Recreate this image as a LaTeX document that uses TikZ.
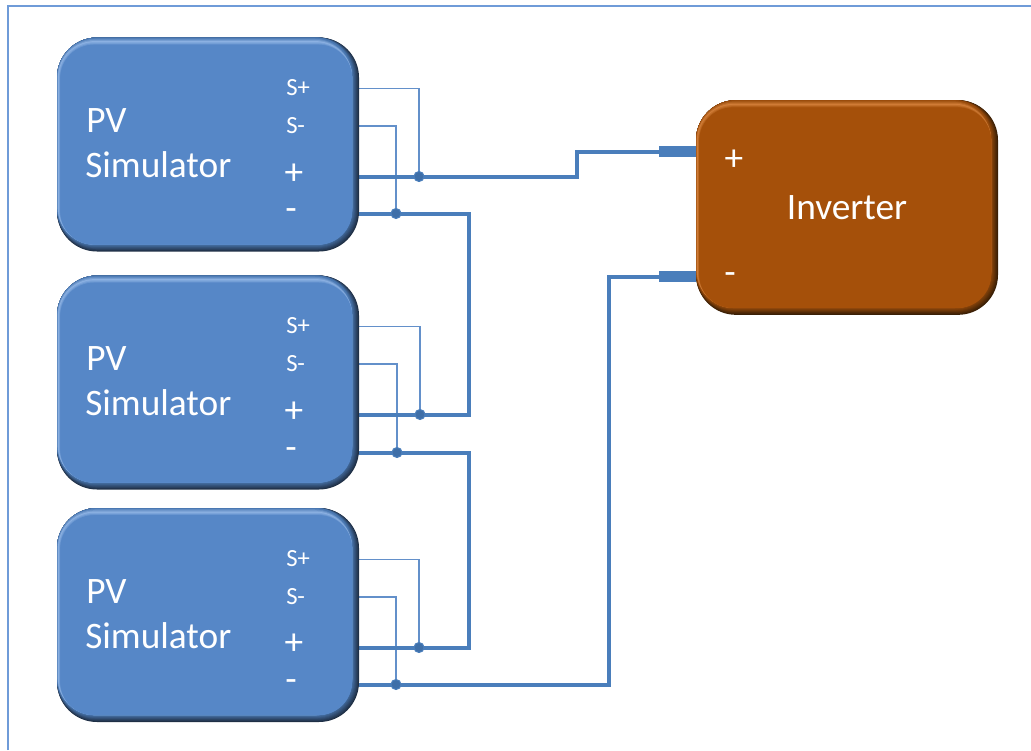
\documentclass[tikz,border=0pt]{standalone}
\usepackage{fontspec}
\setmainfont{Carlito}
\usetikzlibrary{backgrounds}

\definecolor{pvmain}{HTML}{5687C7}
\definecolor{pvrim}{HTML}{4A78B2}
\definecolor{pvlight}{HTML}{8DB2E3}
\definecolor{pvdark}{HTML}{1F2F45}
\definecolor{invmain}{HTML}{A5500A}
\definecolor{invrim}{HTML}{9A4C0C}
\definecolor{invlight}{HTML}{D27E38}
\definecolor{invdark}{HTML}{3A1F05}
\definecolor{wireblue}{HTML}{4A7EBB}
\definecolor{senseblue}{HTML}{6390CA}
\definecolor{dotblue}{HTML}{3F6FA8}
\definecolor{frameblue}{HTML}{6F9BD8}

\tikzset{
  bevelbox/.style n args={4}{rounded corners=30pt, fill=#4, inner sep=0pt,
    minimum width=226.5pt, minimum height=160.5pt,
    path picture={
      \foreach \i in {1,...,8} {
        \pgfmathsetmacro\fade{\i*12.5}
        \fill[#2!\fade!#4, rounded corners=30pt-\i*.3pt]
          ([yshift=\i*.65pt]path picture bounding box.south west) rectangle ([xshift=-\i*.65pt]path picture bounding box.north east);
      }
      \foreach \i in {0,...,3} {
        \pgfmathsetmacro\fade{\i*33}
        \fill[#3!\fade!#2, rounded corners=29pt-\i*.5pt]
          ([xshift=\i*.25pt,yshift=5.2pt]path picture bounding box.south west) rectangle ([xshift=-5.2pt,yshift=-\i*.9pt]path picture bounding box.north east);
      }
      \foreach \i in {1,...,3} {
        \pgfmathsetmacro\fade{\i*33}
        \fill[#1!\fade!#3, rounded corners=27pt-\i*.5pt]
          ([xshift=.75pt+\i*.6pt,yshift=5.2pt]path picture bounding box.south west) rectangle ([xshift=-5.2pt,yshift=-2.7pt-\i*.9pt]path picture bounding box.north east);
      }
      \fill[#1, rounded corners=25pt]
        ([xshift=2.5pt,yshift=5.2pt]path picture bounding box.south west) rectangle ([xshift=-5.2pt,yshift=-5.5pt]path picture bounding box.north east);
    }},
  pvbox/.style={bevelbox={pvmain}{pvrim}{pvlight}{pvdark}},
  invbox/.style={bevelbox={invmain}{invrim}{invlight}{invdark}},
  boxtext/.style={text=white, inner sep=0pt, font=\fontsize{28}{28}\selectfont},
  nametext/.style={boxtext, anchor=base west},
  sensetext/.style={text=white, inner sep=0pt, anchor=base west, font=\fontsize{18.5}{18.5}\selectfont},
  powerwire/.style={draw=wireblue, line width=3pt},
  senseline/.style={draw=senseblue, line width=1.2pt},
  stubline/.style={draw=wireblue, line width=8pt},
  dotnode/.style={circle, fill=dotblue, draw=wireblue, line width=.8pt, inner sep=0pt, minimum size=7.5pt}
}

\begin{document}
\begin{tikzpicture}[x=0.75pt,y=0.75pt,yscale=-1,xscale=1]
\useasboundingbox (0,0) rectangle (1031,750);

\draw [frameblue, line width=1.5pt] (8,750) -- (8,6) -- (1031,6);

% simulators
\draw (208, 144.5) node [pvbox] (pva) {};
\draw (208, 382.5) node [pvbox] (pvb) {};
\draw (208, 615) node [pvbox] (pvc) {};
\draw (847, 207.5) node [invbox, minimum height=161pt] (inv) {};

\draw (86, 132) node [nametext] (pvaname) {PV};
\draw (85, 177) node [nametext] (pvasim) {Simulator};
\draw (86, 370) node [nametext] (pvbname) {PV};
\draw (85, 415) node [nametext] (pvbsim) {Simulator};
\draw (86, 603) node [nametext] (pvcname) {PV};
\draw (85, 648) node [nametext] (pvcsim) {Simulator};
\draw (847, 208) node [boxtext] (invname) {Inverter};

\draw (286, 95) node [sensetext] (spa) {S+};
\draw (286, 133) node [sensetext] (sma) {S-};
\draw (294, 174) node [boxtext] (plusa) {+};
\draw (291, 215) node [boxtext] (minusa) {-};
\draw (286, 333) node [sensetext] (spb) {S+};
\draw (286, 371) node [sensetext] (smb) {S-};
\draw (294, 412) node [boxtext] (plusb) {+};
\draw (291, 454) node [boxtext] (minusb) {-};
\draw (286, 566) node [sensetext] (spc) {S+};
\draw (286, 604) node [sensetext] (smc) {S-};
\draw (294, 644) node [boxtext] (plusc) {+};
\draw (291, 686) node [boxtext] (minusc) {-};
\draw (734, 160) node [boxtext] (plusinv) {+};
\draw (730, 279) node [boxtext] (minusinv) {-};

% ports on the right edge
\coordinate (pspa) at (358, 88.5);
\coordinate (psma) at (358, 126);
\coordinate (ppa) at (358, 176.5);
\coordinate (pma) at (358, 213.5);
\coordinate (pspb) at (358, 326.5);
\coordinate (psmb) at (358, 364);
\coordinate (ppb) at (358, 414.5);
\coordinate (pmb) at (358, 452.5);
\coordinate (pspc) at (358, 559.5);
\coordinate (psmc) at (358, 597);
\coordinate (ppc) at (358, 647.5);
\coordinate (pmc) at (358, 684.5);
\coordinate (stubp) at (659, 151.5);
\coordinate (stubm) at (659, 276.5);

\draw (419, 176.5) node [dotnode] (dota) {};
\draw (396, 213.5) node [dotnode] (dotb) {};
\draw (420, 414.5) node [dotnode] (dotc) {};
\draw (397, 452.5) node [dotnode] (dotd) {};
\draw (419, 647.5) node [dotnode] (dote) {};
\draw (396, 684.5) node [dotnode] (dotf) {};

\begin{pgfonlayer}{background}
\draw [senseline] (pspa) -| (dota.center);
\draw [senseline] (psma) -| (dotb.center);
\draw [senseline] (pspb) -| (dotc.center);
\draw [senseline] (psmb) -| (dotd.center);
\draw [senseline] (pspc) -| (dote.center);
\draw [senseline] (psmc) -| (dotf.center);

\draw [powerwire] (ppa) -- (dota.center) -- (577, 176.5) -- (577, 151.5) -- (stubp);
\draw [powerwire] (pma) -- (dotb.center) -- (469, 213.5) -- (469, 414.5) -- (dotc.center) -- (ppb);
\draw [powerwire] (pmb) -- (dotd.center) -- (469, 452.5) -- (469, 647.5) -- (dote.center) -- (ppc);
\draw [powerwire] (pmc) -- (dotf.center) -- (609, 684.5) -- (609, 276.5) -- (stubm);
\draw [stubline] (stubp) -- (inv.west |- stubp);
\draw [stubline] (stubm) -- (inv.west |- stubm);
\end{pgfonlayer}

\end{tikzpicture}
\end{document}
